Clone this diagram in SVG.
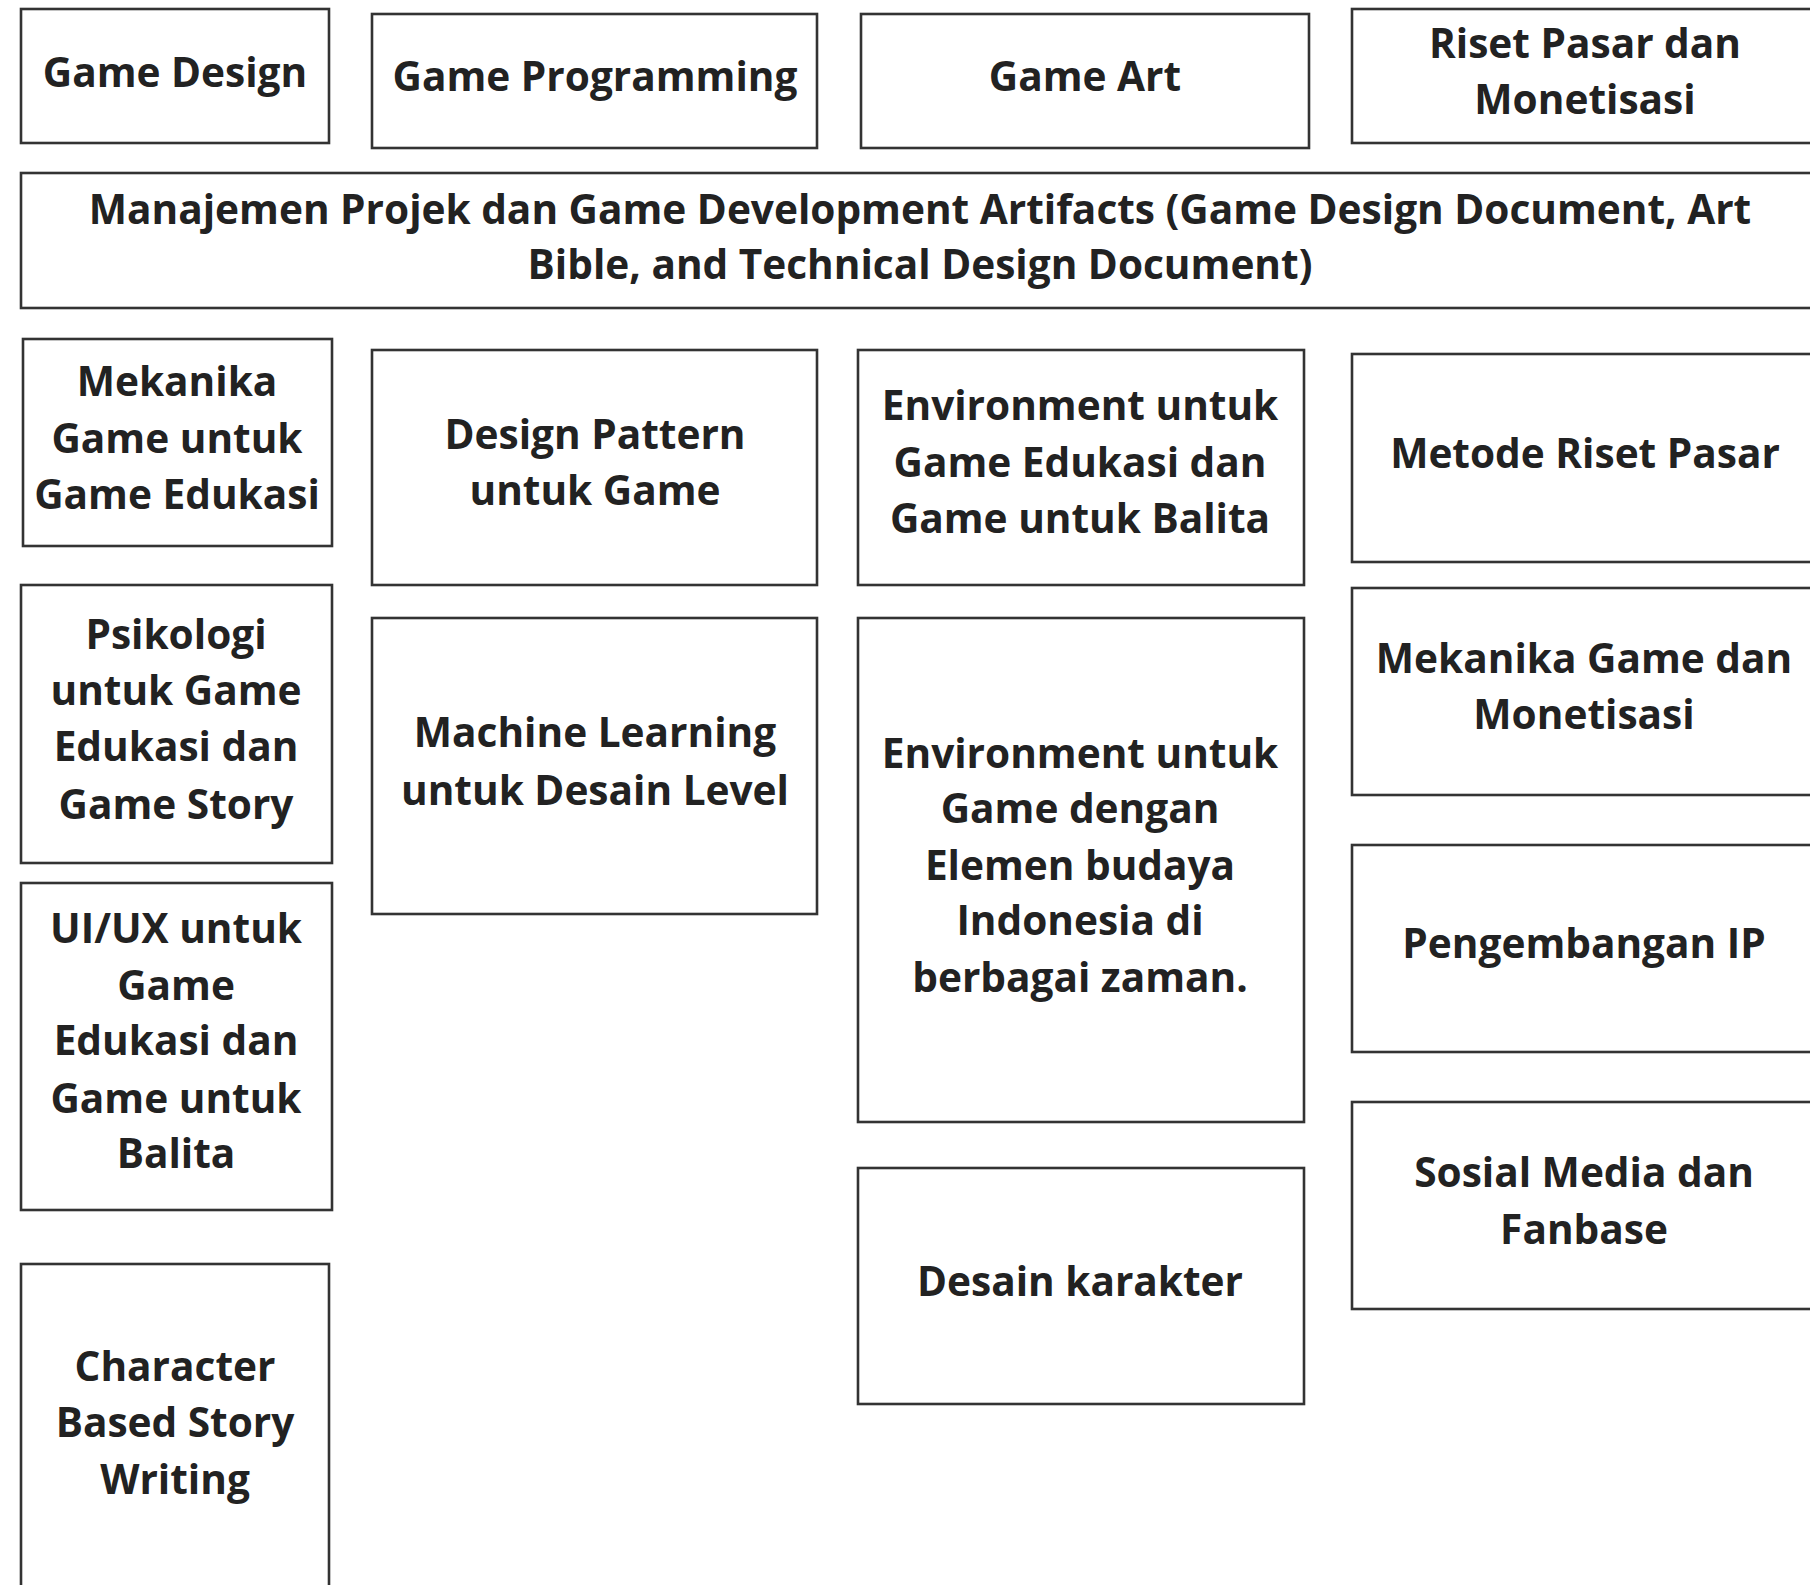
<svg xmlns="http://www.w3.org/2000/svg" width="1810" height="1585" viewBox="0 0 1810 1585">
<style>
.box{fill:#fff;stroke:#333;stroke-width:2.6}
.t{font-family:"Open Sans","Noto Sans","Liberation Sans",sans-serif;font-weight:700;font-size:40.6px;fill:#222;text-anchor:middle}
</style>
<rect width="1810" height="1585" fill="#fff"/>
<g id="connectors"></g>
<g id="game-design"><rect class="box" x="21" y="9" width="308" height="134"/><text class="t" x="175" y="87">Game Design</text></g>
<g id="game-programming"><rect class="box" x="372" y="14" width="445" height="134"/><text class="t" x="595" y="91">Game Programming</text></g>
<g id="game-art"><rect class="box" x="861" y="14" width="448" height="134"/><text class="t" x="1085" y="91">Game Art</text></g>
<g id="riset-pasar"><rect class="box" x="1352" y="9" width="470" height="134"/><text class="t" x="1585" y="58">Riset Pasar dan</text><text class="t" x="1585" y="114">Monetisasi</text></g>
<g id="manajemen"><rect class="box" x="21" y="173" width="1800" height="135"/><text class="t" x="920" y="224">Manajemen Projek dan Game Development Artifacts (Game Design Document, Art</text><text class="t" x="920" y="279">Bible, and Technical Design Document)</text></g>
<g id="mekanika-edukasi"><rect class="box" x="23" y="339" width="309" height="207"/><text class="t" x="177" y="396">Mekanika</text><text class="t" x="177" y="453">Game untuk</text><text class="t" x="177" y="509">Game Edukasi</text></g>
<g id="psikologi"><rect class="box" x="21" y="585" width="311" height="278"/><text class="t" x="176" y="649">Psikologi</text><text class="t" x="176" y="705">untuk Game</text><text class="t" x="176" y="761">Edukasi dan</text><text class="t" x="176" y="819">Game Story</text></g>
<g id="uiux"><rect class="box" x="21" y="883" width="311" height="327"/><text class="t" x="176" y="943">UI/UX untuk</text><text class="t" x="176" y="1000">Game</text><text class="t" x="176" y="1055">Edukasi dan</text><text class="t" x="176" y="1113">Game untuk</text><text class="t" x="176" y="1168">Balita</text></g>
<g id="character-story"><rect class="box" x="21" y="1264" width="308" height="340"/><text class="t" x="175" y="1381">Character</text><text class="t" x="175" y="1437">Based Story</text><text class="t" x="175" y="1494">Writing</text></g>
<g id="design-pattern"><rect class="box" x="372" y="350" width="445" height="235"/><text class="t" x="595" y="449">Design Pattern</text><text class="t" x="595" y="505">untuk Game</text></g>
<g id="machine-learning"><rect class="box" x="372" y="618" width="445" height="296"/><text class="t" x="595" y="747">Machine Learning</text><text class="t" x="595" y="805">untuk Desain Level</text></g>
<g id="env-edukasi"><rect class="box" x="858" y="350" width="446" height="235"/><text class="t" x="1080" y="420">Environment untuk</text><text class="t" x="1080" y="477">Game Edukasi dan</text><text class="t" x="1080" y="533">Game untuk Balita</text></g>
<g id="env-budaya"><rect class="box" x="858" y="618" width="446" height="504"/><text class="t" x="1080" y="768">Environment untuk</text><text class="t" x="1080" y="823">Game dengan</text><text class="t" x="1080" y="880">Elemen budaya</text><text class="t" x="1080" y="935">Indonesia di</text><text class="t" x="1080" y="992">berbagai zaman.</text></g>
<g id="desain-karakter"><rect class="box" x="858" y="1168" width="446" height="236"/><text class="t" x="1080" y="1296">Desain karakter</text></g>
<g id="metode-riset"><rect class="box" x="1352" y="354" width="470" height="208"/><text class="t" x="1585" y="468">Metode Riset Pasar</text></g>
<g id="mekanika-monetisasi"><rect class="box" x="1352" y="588" width="470" height="207"/><text class="t" x="1584" y="673">Mekanika Game dan</text><text class="t" x="1584" y="729">Monetisasi</text></g>
<g id="pengembangan-ip"><rect class="box" x="1352" y="845" width="470" height="207"/><text class="t" x="1584" y="958">Pengembangan IP</text></g>
<g id="sosial-media"><rect class="box" x="1352" y="1102" width="470" height="207"/><text class="t" x="1584" y="1187">Sosial Media dan</text><text class="t" x="1584" y="1244">Fanbase</text></g>
</svg>
